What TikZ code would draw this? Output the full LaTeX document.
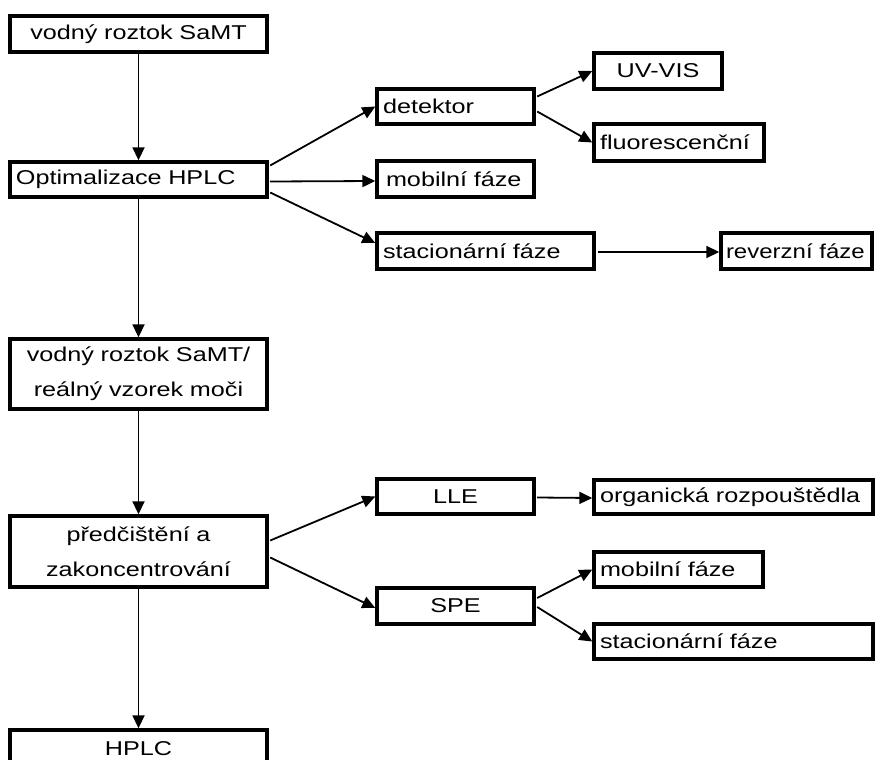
\documentclass[tikz,border=0pt]{standalone}
\usepackage{fontspec}
\setmainfont{Liberation Sans}[FakeStretch=1.26]
\usetikzlibrary{arrows.meta}
\tikzset{
  bxbase/.style={draw=black, line width=3.4pt, fill=white, inner xsep=6pt, inner ysep=0pt,
    font=\fontsize{20pt}{35pt}\selectfont},
  lbox/.style={bxbase, align=left},
  cbox/.style={bxbase, align=center},
  conn/.style={line width=1.8pt, -{Triangle[length=13pt,width=12pt]}}
}
\begin{document}
\begin{tikzpicture}[x=1pt,y=-1pt]
\useasboundingbox (0,0) rectangle (876,760);
\fill[white] (0,0) rectangle (876,760);
% main column
\node[cbox, text width=245pt, minimum height=36pt] (b1) at (138.5,34) {vodný roztok SaMT};
\node[lbox, text width=245pt, minimum height=35pt] (b2) at (138.5,179.5) {\mbox{Optimalizace HPLC}};
\node[cbox, text width=245pt, minimum height=70pt] (b3) at (138.5,374) {vodný roztok SaMT/\\reálný vzorek moči};
\node[cbox, text width=245pt, minimum height=71pt] (b4) at (138.5,551.5) {předčištění a\\zakoncentrování};
\node[cbox, text width=245pt, minimum height=37pt] (hplc) at (138.5,748.5) {HPLC};
% HPLC optimisation branch
\node[lbox, text width=145pt, minimum height=35pt] (det) at (455.5,106.5) {\mbox{detektor}};
\node[cbox, text width=116pt, minimum height=36pt] (uv) at (658,71) {UV-VIS};
\node[lbox, text width=158pt, minimum height=37pt] (fl) at (679,142.5) {\mbox{fluorescenční}};
\node[lbox, text width=145pt, minimum height=36pt] (mob) at (455.5,179) {\mbox{\hspace{3pt}mobilní fáze}};
\node[lbox, text width=205pt, minimum height=36pt] (sta) at (485.5,251) {\mbox{stacionární fáze}};
\node[lbox, text width=141pt, inner xsep=5pt, minimum height=36pt] (rev) at (796.5,251) {\mbox{\addfontfeature{FakeStretch=1.2}reverzní fáze}};
% pre-treatment branch
\node[cbox, text width=145pt, minimum height=35pt] (lle) at (455.5,496.5) {LLE};
\node[lbox, text width=267pt, minimum height=34pt] (org) at (733.5,497) {\mbox{organická rozpouštědla}};
\node[cbox, text width=145pt, minimum height=36pt] (spe) at (455.5,606) {SPE};
\node[lbox, text width=157pt, minimum height=35pt] (mob2) at (678.5,569.5) {\mbox{mobilní fáze}};
\node[lbox, text width=267pt, minimum height=35pt] (sta2) at (733.5,641.5) {\mbox{stacionární fáze}};
% connectors
\draw[conn] (b1.south) -- (b2.north);
\draw[conn] (b2.south) -- (b3.north);
\draw[conn] (b3.south) -- (b4.north);
\draw[conn] (b4.south) -- (hplc.north);
\draw[conn] ([xshift=1.5pt,yshift=14pt]b2.east) -- (det.west);
\draw[conn] ([xshift=1.5pt,yshift=-2pt]b2.east) -- ([yshift=-2pt]mob.west);
\draw[conn] ([xshift=1.5pt,yshift=-13pt]b2.east) -- ([yshift=8pt]sta.west);
\draw[conn] ([xshift=1.5pt,yshift=10pt]det.east) -- (uv.west);
\draw[conn] ([xshift=1.5pt,yshift=-5pt]det.east) -- (fl.west);
\draw[conn] ([xshift=2pt,yshift=-1pt]sta.east) -- ([yshift=-1pt]rev.west);
\draw[conn] ([xshift=1.5pt,yshift=11pt]b4.east) -- (lle.west);
\draw[conn] ([xshift=1.5pt,yshift=-6pt]b4.east) -- ([yshift=-2pt]spe.west);
\draw[conn] ([xshift=1.5pt,yshift=-1pt]lle.east) -- ([yshift=-1pt]org.west);
\draw[conn] ([xshift=1.5pt,yshift=8pt]spe.east) -- (mob2.west);
\draw[conn] ([xshift=1.5pt,yshift=-1pt]spe.east) -- (sta2.west);
\end{tikzpicture}
\end{document}
